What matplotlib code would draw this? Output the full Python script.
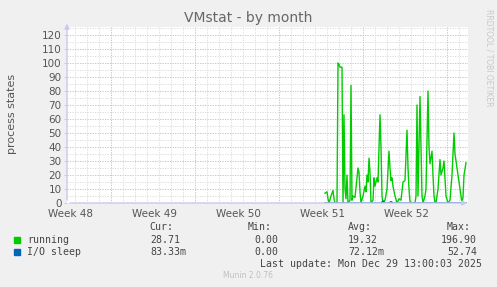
import matplotlib.pyplot as plt
from matplotlib.ticker import FixedLocator

# data: hours since start of graph window
run_hours = [516, 520, 522, 524, 528, 532, 534, 536, 540, 542, 544, 546, 550, 552,
             554, 556, 558, 560, 562, 566, 568, 570, 572, 576, 580, 582, 584, 586,
             588, 592, 596, 598, 600, 602, 604, 606, 608, 612, 614, 616, 620, 622,
             626, 628, 630, 632, 636, 640, 644, 646, 648, 650, 652, 656, 660, 664,
             668, 672, 676, 680, 682, 684, 686, 690, 696, 698, 700, 702, 706, 708,
             710, 712, 716, 718, 722, 724, 726, 730, 732, 734, 736, 738, 742, 746,
             748, 752, 754, 758, 762, 766, 770, 774, 776, 780, 784, 788, 790, 792,
             794, 798]
running = [7, 8, 3, 0, 5, 9, 3, 0, 0, 100, 99, 97, 97, 0,
           63, 10, 3, 20, 0, 2, 84, 2, 5, 4, 18, 25, 22, 8,
           0, 5, 12, 8, 20, 15, 32, 22, 0, 2, 18, 12, 18, 15,
           63, 40, 5, 0, 2, 10, 37, 25, 16, 18, 12, 5, 0, 3,
           2, 15, 16, 52, 25, 10, 1, 0, 0, 5, 70, 5, 76, 40,
           5, 0, 5, 10, 80, 40, 28, 37, 20, 5, 0, 0, 10, 31,
           20, 25, 30, 5, 0, 2, 20, 50, 35, 25, 15, 5, 0, 4,
           20, 28.71]

io_hours = [516, 628, 632, 636, 644, 648, 652, 798]
io_sleep = [0, 0, 1.5, 0, 0, 1.0, 0, 0.08]

week_labels = ["Week 48", "Week 49", "Week 50", "Week 51", "Week 52"]
week_pos = [6, 174, 342, 510, 678]

legend_rows = [
    ("running", "#00CC00", "28.71", "0.00", "19.32", "196.90"),
    ("I/O sleep", "#0066B3", "83.33m", "0.00", "72.12m", "52.74"),
]

W, H = 497, 287
fig = plt.figure(figsize=(W / 100, H / 100), dpi=100, facecolor="#F0F0F0")
ax = fig.add_axes([67 / W, 1 - 203 / H, 401 / W, 176 / H], facecolor="white")

ax.set_xlim(0, 802)
ax.set_ylim(0, 125.7)

# grid
for y in range(5, 126, 5):
    c = "#E6AAAA" if y % 10 == 0 else "#D8D8D8"
    ax.axhline(y, color=c, lw=0.6, ls=(0, (1.5, 1.5)), zorder=1)
for x in range(16, 802, 24):
    c = "#E6AAAA" if (x - 88) % 168 == 0 else "#D8D8D8"
    ax.axvline(x, color=c, lw=0.6, ls=(0, (1.5, 1.5)), zorder=1)

ax.plot(run_hours, running, color="#00CC00", lw=1, zorder=3)
ax.plot(io_hours, io_sleep, color="#0066B3", lw=1, zorder=4)

for s in ax.spines.values():
    s.set_visible(False)
axc = "#C8C8F0"
ax.annotate("", xy=(1.005, 0), xytext=(0, 0), xycoords="axes fraction",
            arrowprops=dict(arrowstyle="-|>", color=axc, lw=1, mutation_scale=7),
            annotation_clip=False, zorder=5)
ax.annotate("", xy=(0, 1.035), xytext=(0, 0), xycoords="axes fraction",
            arrowprops=dict(arrowstyle="-|>", color=axc, lw=1, mutation_scale=7),
            annotation_clip=False, zorder=5)

ax.yaxis.set_major_locator(FixedLocator(list(range(0, 121, 10))))
ax.xaxis.set_major_locator(FixedLocator(week_pos))
ax.set_xticklabels(week_labels)
ax.tick_params(axis="both", length=2, width=0.8, color="#D0D0D0",
               labelsize=7.5, labelcolor="#555555", pad=2)
ax.tick_params(axis="x", length=0, pad=4)

fig.text(248 / W, 1 - 18 / H, "VMstat - by month", ha="center", va="center",
         fontsize=10, color="#666666")
fig.text(12 / W, 1 - 114 / H, "process states", ha="center", va="center",
         rotation=90, fontsize=8, color="#555555")
fig.text(489 / W, 1 - 58 / H, "RRDTOOL / TOBI OETIKER", ha="center", va="center",
         rotation=270, fontsize=5.5, color="#C8C8C8")

mono = dict(family="DejaVu Sans Mono", fontsize=7.1, color="#444444", va="center")
for x, t in [(149, "Cur:"), (248, "Min:"), (348, "Avg:"), (447, "Max:")]:
    fig.text(x / W, 1 - 227 / H, t, ha="left", **mono)
for i, (name, col, cur, mn, avg, mx) in enumerate(legend_rows):
    yy = 1 - (240 + 12 * i) / H
    fig.patches.append(plt.Rectangle((14 / W, yy - 3 / H), 6 / W, 6 / H,
                                     transform=fig.transFigure, color=col))
    fig.text(27 / W, yy, name, ha="left", **mono)
    fig.text(150 / W, yy, cur, ha="left", **mono)
    fig.text(278 / W, yy, mn, ha="right", **mono)
    fig.text(348 / W, yy, avg, ha="left", **mono)
    fig.text(477 / W, yy, mx, ha="right", **mono)
fig.text(482 / W, 1 - 264 / H, "Last update: Mon Dec 29 13:00:03 2025", ha="right", **mono)
fig.text(248 / W, 1 - 276 / H, "Munin 2.0.76", ha="center", va="center",
         fontsize=5.5, color="#C0C0C0")

fig.savefig("out.png", dpi=100, facecolor=fig.get_facecolor())
